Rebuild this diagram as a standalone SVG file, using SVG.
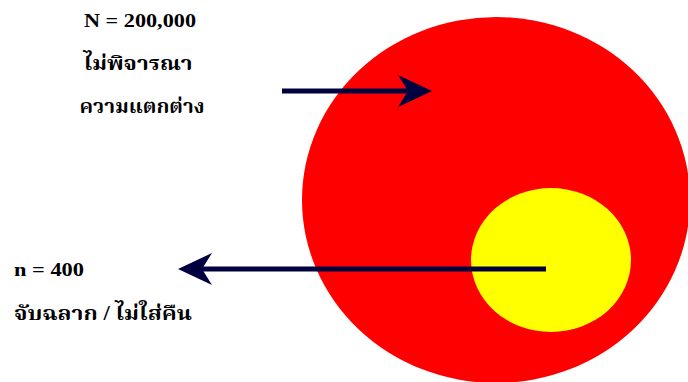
<svg xmlns="http://www.w3.org/2000/svg" width="688" height="382" viewBox="0 0 688 382">
<style>
.t{font-family:"Liberation Serif","Noto Serif Thai","Noto Sans Thai",serif;font-weight:bold;fill:#000}
.s{font-size:18px}
.th{font-size:20px}
.ln{stroke:#000040;stroke-width:5;fill:none}
.hd{fill:#000040}
</style>
<rect width="688" height="382" fill="#fff"/>
<g id="population"><ellipse cx="496" cy="200" rx="194" ry="183" fill="#ff0000"/></g>
<g id="sample"><ellipse cx="551" cy="260" rx="80" ry="72" fill="#ffff00"/></g>
<g id="connectors">
<line class="ln" x1="282" y1="91" x2="420" y2="91"/>
<path class="hd" d="M432,91 L398,75 L408,91 L398,107 Z"/>
<line class="ln" x1="546" y1="269" x2="190" y2="269"/>
<path class="hd" d="M178,269 L212,253 L202,269 L212,285 Z"/>
</g>
<g id="label-N">
<text class="t s" x="84" y="27" textLength="112" lengthAdjust="spacingAndGlyphs">N = 200,000</text>
<text class="t th" x="138" y="70" text-anchor="middle" textLength="109" lengthAdjust="spacingAndGlyphs">ไม่พิจารณา</text>
<text class="t th" x="142" y="113" text-anchor="middle" textLength="125" lengthAdjust="spacingAndGlyphs">ความแตกต่าง</text>
</g>
<g id="label-n">
<text class="t s" x="14" y="276" textLength="70" lengthAdjust="spacingAndGlyphs">n = 400</text>
<text class="t th" x="14" y="320" textLength="178" lengthAdjust="spacingAndGlyphs">จับฉลาก / ไม่ใส่คืน</text>
</g>
</svg>
